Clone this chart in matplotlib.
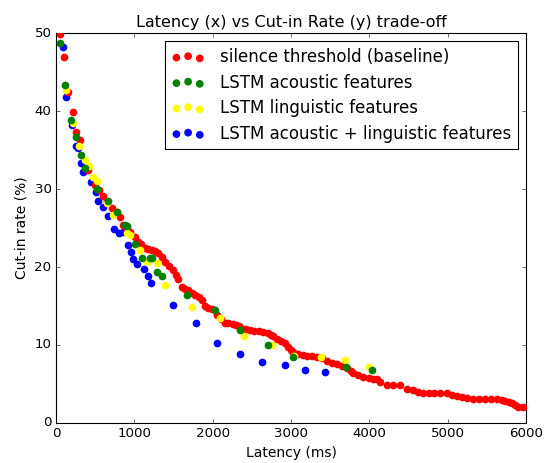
import matplotlib
matplotlib.use('Agg')
import matplotlib.pyplot as plt

plt.style.use('classic')

# silence threshold (baseline)
base_x = [50, 106, 157, 213, 255, 306, 412, 500, 550, 604, 650, 711, 774, 820, 860, 905, 945,
          1009, 1051, 1090, 1136, 1180, 1221, 1265, 1306, 1350, 1391, 1445, 1498, 1530, 1562,
          1604, 1650, 1689, 1730, 1774, 1820, 1860, 1902, 1945, 1987, 2051, 2100, 2157, 2200,
          2264, 2300, 2340, 2380, 2430, 2477, 2530, 2590, 2647, 2700, 2740, 2775, 2820, 2870,
          2923, 2960, 3000, 3030, 3090, 3157, 3210, 3270, 3328, 3390, 3455, 3520, 3583, 3650,
          3710, 3760, 3796, 3860, 3923, 3990, 4050, 4094, 4136, 4221, 4300, 4391, 4477, 4562,
          4620, 4690, 4760, 4830, 4900, 4987, 5050, 5115, 5180, 5250, 5328, 5400, 5470, 5550,
          5625, 5690, 5732, 5780, 5817, 5860, 5902, 5966]
base_y = [49.9, 46.9, 42.5, 39.9, 37.3, 36.3, 32.5, 30.5, 29.9, 29.1, 28.4, 27.6, 27.1, 26.4,
          25.4, 25.0, 24.5, 23.9, 23.2, 22.9, 22.4, 22.3, 22.2, 22.0, 21.8, 21.3, 20.7, 20.1,
          19.6, 19.0, 18.5, 17.4, 17.2, 17.0, 16.7, 16.4, 16.1, 15.8, 15.0, 14.8, 14.6, 13.8,
          13.3, 12.8, 12.8, 12.7, 12.6, 12.4, 12.1, 12.0, 11.9, 11.8, 11.8, 11.7, 11.5, 11.3,
          11.1, 10.8, 10.5, 10.2, 9.7, 9.3, 9.1, 8.9, 8.7, 8.6, 8.6, 8.5, 8.3, 7.9, 7.7, 7.6,
          7.3, 7.0, 6.7, 6.4, 6.1, 5.9, 5.8, 5.7, 5.6, 5.3, 4.9, 4.9, 4.9, 4.4, 4.2, 4.0, 3.8,
          3.8, 3.8, 3.8, 3.8, 3.6, 3.4, 3.3, 3.2, 3.1, 3.1, 3.1, 3.1, 3.1, 3.0, 2.8, 2.7, 2.5,
          2.3, 2.0, 2.0]

# LSTM acoustic features
ac_x = [50, 115, 188, 255, 320, 375, 523, 668, 774, 880, 902, 1009, 1094, 1200, 1221, 1285,
        1349, 1668, 2030, 2349, 2700, 3030, 3702, 4038]
ac_y = [48.7, 43.3, 38.9, 36.7, 34.4, 32.7, 30.0, 28.4, 27.1, 25.4, 25.2, 23.0, 21.1, 21.1,
        21.1, 19.4, 18.8, 16.4, 14.5, 11.9, 10.0, 8.5, 7.2, 6.8]

# LSTM linguistic features
ling_x = [128, 221, 298, 370, 421, 476, 519, 647, 732, 902, 945, 1072, 1157, 1285, 1391, 1732,
          2094, 2400, 2753, 3038, 3383, 3690, 3990]
ling_y = [42.7, 38.5, 35.5, 33.7, 32.9, 31.6, 31.0, 28.2, 26.7, 24.3, 24.1, 22.2, 20.7, 20.5,
          17.7, 14.9, 13.4, 11.1, 10.0, 8.6, 8.5, 8.1, 7.2]

# LSTM acoustic + linguistic features
both_x = [85, 128, 200, 255, 277, 315, 349, 383, 447, 510, 533, 596, 660, 740, 805, 852, 915,
          958, 980, 1040, 1125, 1170, 1213, 1490, 1787, 2050, 2345, 2630, 2920, 3183, 3435]
both_y = [48.2, 41.8, 38.2, 35.5, 35.3, 33.3, 32.2, 32.4, 30.9, 29.6, 28.5, 27.7, 26.6, 24.9,
          24.3, 24.5, 22.8, 21.9, 21.0, 20.4, 19.8, 18.8, 17.9, 15.1, 12.8, 10.2, 8.9, 7.8, 7.4,
          6.8, 6.5]

fig = plt.figure(figsize=(546 / 80, 463 / 80), dpi=80, facecolor='white')
ax = fig.add_axes([0.1026, 0.0864, 0.8608, 0.8423])

sz = 48
h_both = ax.scatter(both_x, both_y, s=sz, c='blue', linewidths=0, zorder=2)
h_base = ax.scatter(base_x, base_y, s=sz, c='red', linewidths=0, zorder=3)
h_ling = ax.scatter(ling_x, ling_y, s=sz, c='yellow', linewidths=0, zorder=4)
h_ac = ax.scatter(ac_x, ac_y, s=sz, c='green', linewidths=0, zorder=5)

ax.set_xlim(0, 6000)
ax.set_ylim(0, 50)
ax.set_xlabel('Latency (ms)', fontsize=12.5)
ax.set_ylabel('Cut-in rate (%)', fontsize=12.5)
ax.set_title('Latency (x) vs Cut-in Rate (y) trade-off', fontsize=14.4)
ax.tick_params(labelsize=12)

ax.legend([h_base, h_ac, h_ling, h_both],
          ['silence threshold (baseline)', 'LSTM acoustic features',
           'LSTM linguistic features', 'LSTM acoustic + linguistic features'],
          loc='upper right', fontsize=15, scatterpoints=3, labelspacing=0.45,
          handletextpad=0.9)

fig.savefig('out.png', dpi=80, facecolor='white')
